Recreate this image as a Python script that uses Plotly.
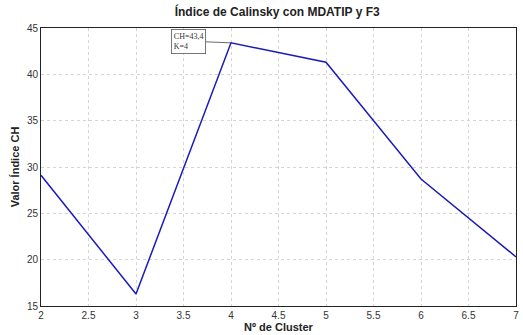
import plotly.graph_objects as go

clusters = [2, 3, 4, 5, 6, 7]
ch_values = [29.1, 16.3, 43.4, 41.3, 28.7, 20.3]
x_ticks = [2, 2.5, 3, 3.5, 4, 4.5, 5, 5.5, 6, 6.5, 7]
y_ticks = [15, 20, 25, 30, 35, 40, 45]

fig = go.Figure()
fig.add_trace(go.Scatter(x=clusters, y=ch_values, mode="lines",
                         line=dict(color="#1a1ab8", width=1.5), showlegend=False))

fig.add_annotation(x=4, y=43.4, xref="x", yref="y",
                   text="CH=43,4<br>K=4", showarrow=True, arrowhead=0,
                   arrowcolor="#444", arrowwidth=0.8, ax=-25, ay=-1,
                   bordercolor="#555", borderwidth=0.8, bgcolor="white",
                   font=dict(family="Liberation Serif", size=8, color="#333"),
                   align="left", xanchor="right", borderpad=2)

grid = dict(showgrid=True, gridcolor="#d4d4d4", griddash="dot", gridwidth=1)
fig.update_xaxes(range=[2, 7], tickvals=x_ticks, ticktext=[str(t) for t in x_ticks],
                 showline=True, linecolor="#222", linewidth=1, mirror=True,
                 ticks="", zeroline=False,
                 title=dict(text="<b>Nº de Cluster</b>", font=dict(size=11, color="#222"), standoff=2),
                 tickfont=dict(size=10, color="#333"), **grid)
fig.update_yaxes(range=[15, 45], tickvals=y_ticks,
                 showline=True, linecolor="#222", linewidth=1, mirror=True,
                 ticks="", zeroline=False,
                 title=dict(text="<b>Valor Índice CH</b>", font=dict(size=11, color="#222"), standoff=5),
                 tickfont=dict(size=10, color="#333"), **grid)

fig.update_layout(
    width=523, height=335,
    margin=dict(l=41, r=4, t=28, b=25),
    plot_bgcolor="white", paper_bgcolor="white",
    font=dict(family="Liberation Sans"),
    title=dict(text="<b>Índice de Calinsky con MDATIP y F3</b>", x=0.53, xanchor="center",
               y=0.965, yanchor="middle", font=dict(size=12, color="#222")),
)
fig.write_html("out.html")
